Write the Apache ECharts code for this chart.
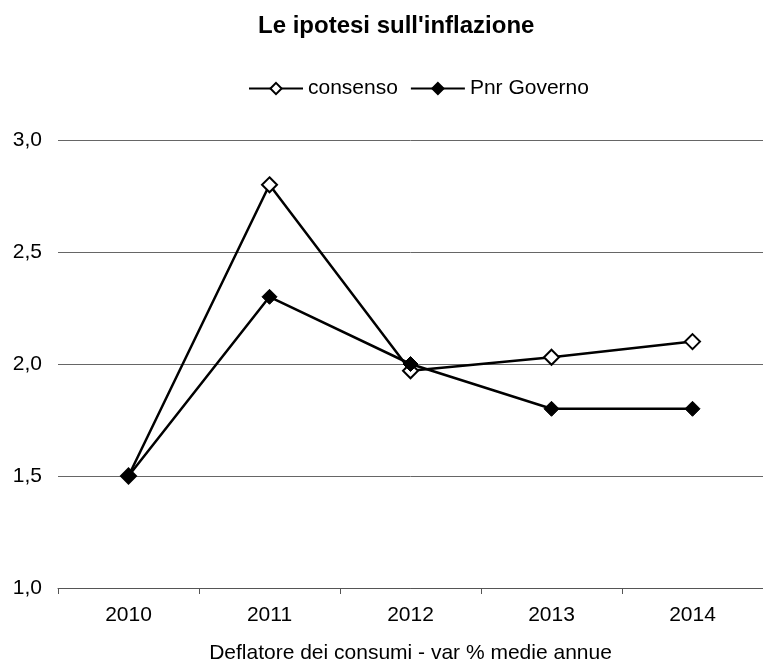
<!DOCTYPE html>
<html>
<head>
<meta charset="utf-8">
<script src="https://cdn.jsdelivr.net/npm/echarts@6/dist/echarts.min.js"></script>
<style>
  html, body { margin: 0; padding: 0; background: #fff; }
  #main { width: 763px; height: 669px; }
</style>
</head>
<body>
<div id="main"></div>
<script>
// dati
var anni = ['2010', '2011', '2012', '2013', '2014'];
var consenso = [1.5, 2.8, 1.97, 2.03, 2.1];
var pnrGoverno = [1.5, 2.3, 2.0, 1.8, 1.8];
var yTicks = [1.0, 1.5, 2.0, 2.5, 3.0];

var chart = echarts.init(document.getElementById('main'), null, { renderer: 'canvas' });
var font = 'Liberation Sans, Arial, sans-serif';

var option = {
  backgroundColor: '#fff',
  animation: false,
  title: {
    text: "Le ipotesi sull'inflazione",
    left: 253,
    top: 9,
    textStyle: { fontFamily: font, fontSize: 24, fontWeight: 'bold', color: '#000' }
  },
  legend: {
    top: 73,
    left: 243,
    itemWidth: 54,
    itemHeight: 14,
    itemGap: 12,
    textStyle: { fontFamily: font, fontSize: 21, color: '#000' },
    data: ['consenso', 'Pnr Governo']
  },
  grid: { left: 58, top: 140, width: 715, height: 450 },
  xAxis: {
    type: 'category',
    data: anni,
    name: 'Deflatore dei consumi - var % medie annue',
    nameLocation: 'middle',
    nameGap: 55,
    nameTextStyle: { fontFamily: font, fontSize: 21, color: '#000' },
    axisLine: { lineStyle: { color: '#555', width: 1 } },
    axisTick: { show: true, length: 6, lineStyle: { color: '#555' } },
    axisLabel: { fontFamily: font, fontSize: 21, color: '#000', margin: 17 }
  },
  yAxis: {
    type: 'value',
    min: yTicks[0],
    max: yTicks[yTicks.length - 1],
    interval: 0.5,
    axisLine: { show: false },
    axisTick: { show: false },
    axisLabel: {
      fontFamily: font, fontSize: 21, color: '#000', margin: 16,
      formatter: function (v) { return v.toFixed(1).replace('.', ','); }
    },
    splitLine: { lineStyle: { color: '#666', width: 1 } }
  },
  series: [
    {
      name: 'consenso',
      type: 'line',
      data: consenso,
      symbol: 'diamond',
      symbolSize: 15,
      lineStyle: { color: '#000', width: 2.5 },
      itemStyle: { color: '#fff', borderColor: '#000', borderWidth: 2 },
      z: 3
    },
    {
      name: 'Pnr Governo',
      type: 'line',
      data: pnrGoverno,
      symbol: 'diamond',
      symbolSize: 15,
      lineStyle: { color: '#000', width: 2.5 },
      itemStyle: { color: '#000', borderColor: '#000', borderWidth: 1 },
      z: 4
    }
  ]
};

chart.setOption(option);
</script>
</body>
</html>
